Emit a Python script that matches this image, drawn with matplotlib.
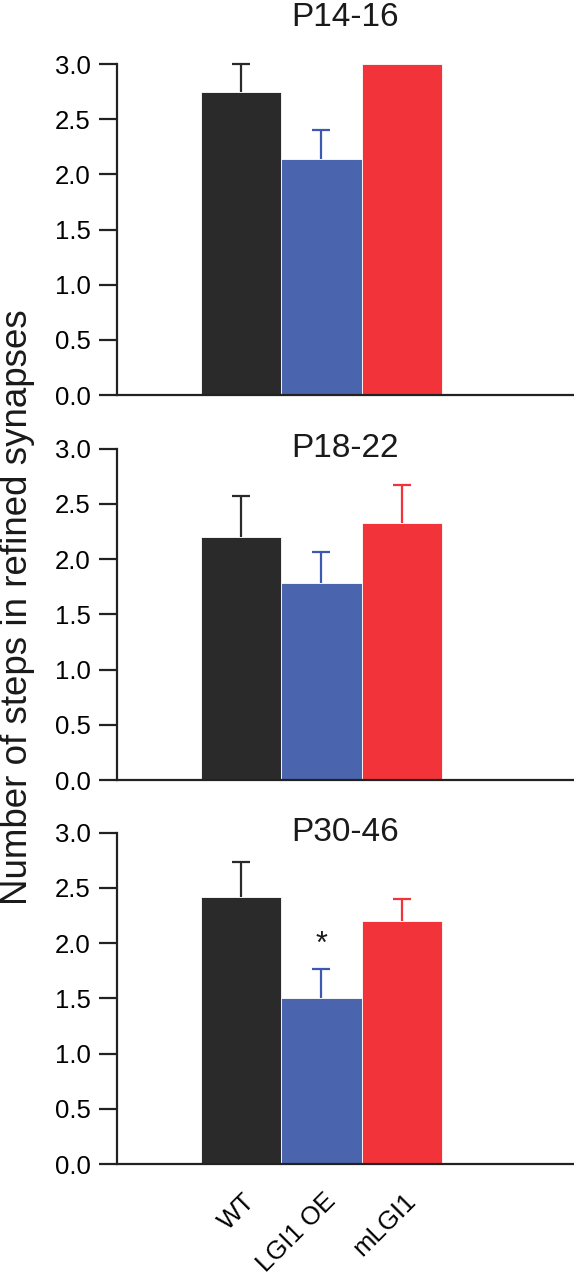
import matplotlib.pyplot as plt
import matplotlib.transforms as mtransforms
import numpy as np

plt.rcParams['font.family'] = ['Liberation Sans', 'DejaVu Sans']

groups = ["WT", "LGI1 OE", "mLGI1"]
panels = ["P14-16", "P18-22", "P30-46"]

means_p14 = [2.75, 2.14, 3.00]
errs_p14 = [0.25, 0.26, 0.0]
means_p18 = [2.20, 1.78, 2.33]
errs_p18 = [0.37, 0.28, 0.34]
means_p30 = [2.42, 1.50, 2.20]
errs_p30 = [0.31, 0.27, 0.20]

bar_colors = ["#2a2a2a", "#4a64ae", "#f2333a"]
err_colors = ["#2a2a2a", "#3d58b0", "#f2333a"]

means = [means_p14, means_p18, means_p30]
errs = [errs_p14, errs_p18, errs_p30]

fig = plt.figure(figsize=(5.74, 12.8), dpi=100)

# axes boxes [left, bottom, width, height] in figure fractions
boxes = [
    [0.2038, 0.6914, 0.7962, 0.2586],
    [0.2038, 0.3906, 0.7962, 0.2589],
    [0.2038, 0.0906, 0.7962, 0.2589],
]
title_y = [1.14, 1.0, 1.0]

x = np.arange(len(groups))

for i, box in enumerate(boxes):
    ax = fig.add_axes(box)
    ax.bar(x, means[i], width=1.0, color=bar_colors, edgecolor='white', linewidth=0.6)
    for j in range(len(groups)):
        if errs[i][j] > 0:
            _, caps, _ = ax.errorbar(x[j], means[i][j], yerr=[[0], [errs[i][j]]], fmt='none',
                                     ecolor=err_colors[j], elinewidth=1.6, capsize=6.5,
                                     capthick=1.6, clip_on=False)
            caps[0].set_visible(False)  # no cap at the bar top
    ax.set_xlim(-1.54, 4.14)
    ax.set_ylim(0, 3.0)
    ax.set_yticks([0.0, 0.5, 1.0, 1.5, 2.0, 2.5, 3.0])
    ax.set_yticklabels(["0.0", "0.5", "1.0", "1.5", "2.0", "2.5", "3.0"])
    ax.spines['top'].set_visible(False)
    ax.spines['right'].set_visible(False)
    ax.spines['left'].set_linewidth(1.6)
    ax.spines['bottom'].set_linewidth(1.6)
    ax.spines['left'].set_color('#222222')
    ax.spines['bottom'].set_color('#222222')
    ax.tick_params(axis='y', length=13, width=1.6, labelsize=18.5, pad=6, color='#222222')
    ax.tick_params(axis='x', length=0)
    ax.text(0.5, title_y[i], panels[i], transform=ax.transAxes, ha='center',
            va='center', fontsize=24, color='#1a1a1a')
    if i < 2:
        ax.set_xticks([])
    else:
        ax.set_xticks(x)
        ax.set_xticklabels(groups, rotation=45, ha='right', va='center',
                           rotation_mode='anchor', fontsize=18.5)
        ax.tick_params(axis='x', pad=24)
        offset = mtransforms.ScaledTranslation(0.10, 0, fig.dpi_scale_trans)
        for lbl in ax.get_xticklabels():
            lbl.set_transform(lbl.get_transform() + offset)
        ax.text(1, 1.98, "*", ha='center', va='center', fontsize=22, color='#1a1a1a')

fig.text(0.031, 0.526, "Number of steps in refined synapses", rotation=90,
         ha='center', va='center', fontsize=26.5, color='#1a1a1a')

fig.savefig("out.png", dpi=100)
